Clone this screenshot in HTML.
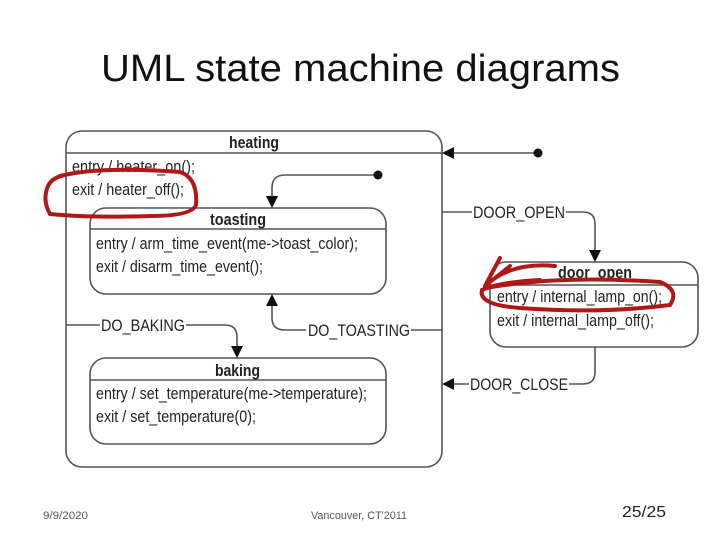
<!DOCTYPE html>
<html><head><meta charset="utf-8"><style>
body{margin:0;width:720px;height:540px;background:#fff;overflow:hidden}
svg{display:block}
</style></head><body>
<svg width="720" height="540" viewBox="0 0 720 540" xmlns="http://www.w3.org/2000/svg" font-family="Liberation Sans, sans-serif">
<text x="101" y="81" font-size="38" fill="#111" textLength="519" lengthAdjust="spacingAndGlyphs">UML state machine diagrams</text>
<g stroke="#555" stroke-width="1.6" fill="none">
<rect x="66" y="131" width="376" height="336" rx="16"/>
<line x1="66" y1="153" x2="442" y2="153"/>
<rect x="90" y="208" width="296" height="86" rx="16"/>
<line x1="90" y1="229" x2="386" y2="229"/>
<rect x="90" y="358" width="296" height="86" rx="16"/>
<line x1="90" y1="380" x2="386" y2="380"/>
<rect x="490" y="262" width="208" height="85" rx="16"/>
<line x1="490" y1="285" x2="698" y2="285"/>
<path d="M378 175 H285 Q272 175 272 188 V200"/>
<path d="M272 302 V318 Q272 330 285 330 H306"/>
<path d="M411 330 H442"/>
<path d="M66 325 H100"/>
<path d="M186 325 H225 Q237 325 237 337 V350"/>
<path d="M538 153 H452"/>
<path d="M442 212 H472"/>
<path d="M566 212 H583 Q595 212 595 224 V254"/>
<path d="M595 347 V372 Q595 384 583 384 H569"/>
<path d="M469 384 H452"/>
</g>
<g fill="#111">
<circle cx="378" cy="175" r="4.5"/>
<circle cx="538" cy="153" r="4.5"/>
<polygon points="266,196 278,196 272,208"/>
<polygon points="266,306 278,306 272,294"/>
<polygon points="231,346 243,346 237,358"/>
<polygon points="454,147 454,159 442,153"/>
<polygon points="589,250 601,250 595,262"/>
<polygon points="454,378 454,390 442,384"/>
</g>
<g font-size="17" fill="#222">
<text x="229" y="148" font-weight="bold" textLength="50" lengthAdjust="spacingAndGlyphs">heating</text>
<text x="72" y="172" textLength="123" lengthAdjust="spacingAndGlyphs">entry / heater_on();</text>
<text x="72" y="195" textLength="112" lengthAdjust="spacingAndGlyphs">exit / heater_off();</text>
<text x="210" y="225" font-weight="bold" textLength="56" lengthAdjust="spacingAndGlyphs">toasting</text>
<text x="96" y="249" textLength="262" lengthAdjust="spacingAndGlyphs">entry / arm_time_event(me-&gt;toast_color);</text>
<text x="96" y="272" textLength="167" lengthAdjust="spacingAndGlyphs">exit / disarm_time_event();</text>
<text x="215" y="376" font-weight="bold" textLength="45" lengthAdjust="spacingAndGlyphs">baking</text>
<text x="96" y="399" textLength="271" lengthAdjust="spacingAndGlyphs">entry / set_temperature(me-&gt;temperature);</text>
<text x="96" y="422" textLength="160" lengthAdjust="spacingAndGlyphs">exit / set_temperature(0);</text>
<text x="558" y="278" font-weight="bold" textLength="74" lengthAdjust="spacingAndGlyphs">door_open</text>
<text x="497" y="302" textLength="165" lengthAdjust="spacingAndGlyphs">entry / internal_lamp_on();</text>
<text x="497" y="326" textLength="157" lengthAdjust="spacingAndGlyphs">exit / internal_lamp_off();</text>
<text x="101" y="331" textLength="84" lengthAdjust="spacingAndGlyphs">DO_BAKING</text>
<text x="308" y="336" textLength="102" lengthAdjust="spacingAndGlyphs">DO_TOASTING</text>
<text x="473" y="218" textLength="92" lengthAdjust="spacingAndGlyphs">DOOR_OPEN</text>
<text x="470" y="390" textLength="98" lengthAdjust="spacingAndGlyphs">DOOR_CLOSE</text>
</g>
<g stroke="#b01818" stroke-width="4" fill="none" stroke-linecap="round">
<path d="M60 176 Q100 166 180 172 Q198 178 196 205 Q192 216 150 216 Q90 218 50 214 Q42 200 48 186 Q52 178 62 176"/>
<path d="M485 288 Q560 275 660 282 Q680 290 670 305 Q600 314 520 308 Q478 305 482 290 Q500 282 540 280"/>
<path d="M485 286 L500 258 M485 286 L510 266 M485 286 Q510 262 555 266"/>
</g>
<text x="43" y="519" font-size="11" fill="#555" textLength="45" lengthAdjust="spacingAndGlyphs">9/9/2020</text>
<text x="311" y="519" font-size="11" fill="#555" textLength="96" lengthAdjust="spacingAndGlyphs">Vancouver, CT'2011</text>
<text x="622" y="517" font-size="16" fill="#222" textLength="44" lengthAdjust="spacingAndGlyphs">25/25</text>
</svg>
</body></html>
